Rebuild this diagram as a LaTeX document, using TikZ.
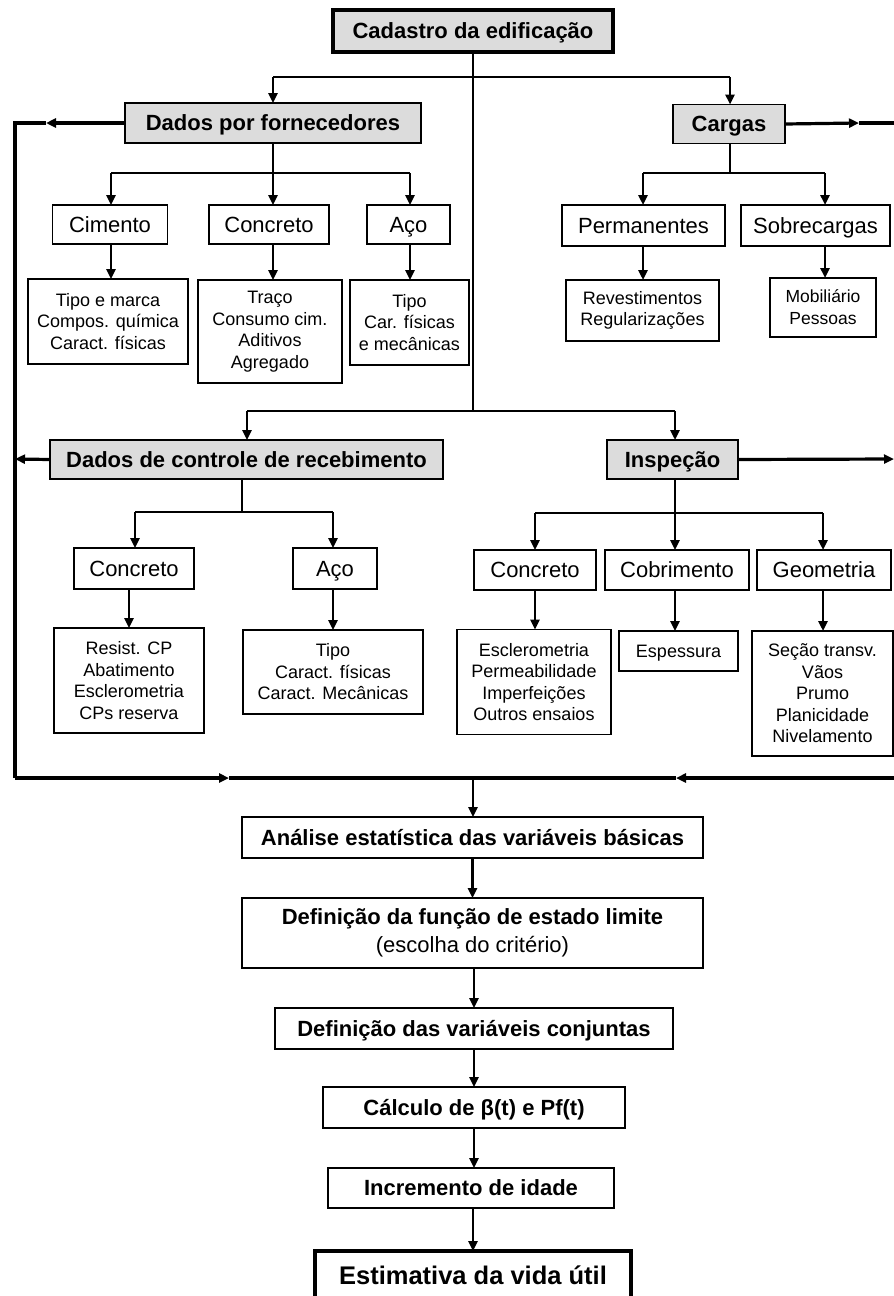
\documentclass[tikz,border=0pt]{standalone}
\usepackage{fontspec}
\setmainfont{Liberation Sans}
\usetikzlibrary{arrows.meta}
\definecolor{boxgray}{RGB}{220,220,220}
\begin{document}
\begin{tikzpicture}[x=1pt,y=-1pt,
  box/.style={draw=black, line width=1.7pt, inner sep=0pt, outer sep=0pt, align=center, text=black},
  gbox/.style={box, fill=boxgray},
  thickbox/.style={box, line width=3.2pt},
  hfont/.style={font=\fontsize{22}{26}\selectfont\bfseries, text height=15.8pt, text depth=0pt},
  sfont/.style={font=\fontsize{22}{26}\selectfont, text height=15.8pt, text depth=0pt},
  dfont/.style={font=\fontsize{18}{21.5}\selectfont},
  mfont/.style={font=\fontsize{17.5}{22}\selectfont},
  efont/.style={font=\fontsize{25.5}{30}\selectfont\bfseries, text height=18.3pt, text depth=0pt},
  ln/.style={draw=black, line width=2.4pt},
  arr/.style={ln, -{Triangle[length=10pt,width=9pt]}},
  lp/.style={draw=black, line width=3.2pt},
  lparr/.style={lp, -{Triangle[length=10pt,width=9pt]}}
]
\useasboundingbox (0,0) rectangle (894,1296);

% ---------- top ----------
\node[thickbox, fill=boxgray, hfont, minimum width=280pt, minimum height=42pt] (cad) at (473,31) {Cadastro da edificação};
\node[gbox, hfont, minimum width=296pt, minimum height=40pt] (dpf) at (273,123) {Dados por fornecedores};
\node[gbox, hfont, minimum width=112pt, minimum height=39pt] (car) at (729,124) {Cargas};

\node[box, sfont, minimum width=115pt, minimum height=39pt] (cim) at (110,224.5) {Cimento};
\node[box, sfont, minimum width=120pt, minimum height=39pt] (conc1) at (269,224.5) {Concreto};
\node[box, sfont, minimum width=83pt, minimum height=39pt] (aco1) at (408.5,224.5) {Aço};

\node[box, dfont, minimum width=160pt, minimum height=85pt] (cimd) at (108,321.5) {Tipo e marca\\Compos. química\\Caract. físicas};
\node[box, dfont, minimum width=144pt, minimum height=103pt] (concd) at (270,331.5) {Traço\\Consumo cim.\\Aditivos\\Agregado};
\node[box, dfont, minimum width=119pt, minimum height=85pt] (acod) at (409.5,322.5) {Tipo\\Car. físicas\\e mecânicas};

\node[box, sfont, minimum width=163pt, minimum height=41pt] (perm) at (643.5,225.5) {Permanentes};
\node[box, sfont, minimum width=149pt, minimum height=41pt] (sobr) at (815.5,225.5) {Sobrecargas};
\node[box, dfont, minimum width=153pt, minimum height=61pt] (revd) at (642.5,310.5) {Revestimentos\\Regularizações};
\node[box, mfont, minimum width=106pt, minimum height=59pt] (mobd) at (823,307.5) {Mobiliário\\Pessoas};

% ---------- middle ----------
\node[gbox, hfont, minimum width=393pt, minimum height=39pt] (dcr) at (246.5,459.5) {Dados de controle de recebimento};
\node[gbox, hfont, minimum width=131pt, minimum height=39pt] (insp) at (672.5,459.5) {Inspeção};

\node[box, sfont, minimum width=120pt, minimum height=41pt] (conc2) at (134,568.5) {Concreto};
\node[box, sfont, minimum width=84pt, minimum height=41pt] (aco2) at (335,568.5) {Aço};
\node[box, dfont, minimum width=150pt, minimum height=105pt] (conc2d) at (129,680.5) {Resist. CP\\Abatimento\\Esclerometria\\CPs reserva};
\node[box, dfont, minimum width=180pt, minimum height=84pt] (aco2d) at (333,672) {Tipo\\Caract. físicas\\Caract. Mecânicas};

\node[box, sfont, minimum width=122pt, minimum height=40pt] (conc3) at (535,570) {Concreto};
\node[box, sfont, minimum width=144pt, minimum height=40pt] (cobr) at (677,570) {Cobrimento};
\node[box, sfont, minimum width=134pt, minimum height=40pt] (geom) at (824,570) {Geometria};
\node[box, dfont, minimum width=154pt, minimum height=105pt] (conc3d) at (534,682) {Esclerometria\\Permeabilidade\\Imperfeições\\Outros ensaios};
\node[box, dfont, text height=12.9pt, text depth=0pt, minimum width=119pt, minimum height=40pt] (espd) at (678.5,651) {Espessura};
\node[box, dfont, minimum width=141pt, minimum height=125pt] (geomd) at (822.5,693.5) {Seção transv.\\Vãos\\Prumo\\Planicidade\\Nivelamento};

% ---------- bottom ----------
\node[box, hfont, minimum width=461pt, minimum height=41pt] (ana) at (472.5,837.5) {Análise estatística das variáveis básicas};
\node[box, font=\fontsize{22}{28}\selectfont\bfseries, minimum width=461pt, minimum height=70pt] (def) at (472.5,933) {Definição da função de estado limite\\\mdseries (escolha do critério)};
\node[box, hfont, minimum width=398pt, minimum height=41pt] (defc) at (474,1028.5) {Definição das variáveis conjuntas};
\node[box, hfont, minimum width=302pt, minimum height=41pt] (calc) at (474,1107.5) {Cálculo de β(t) e Pf(t)};
\node[box, hfont, minimum width=286pt, minimum height=40pt] (inc) at (471,1188) {Incremento de idade};
\node[thickbox, efont, minimum width=316pt, minimum height=48pt] (est) at (473,1275) {Estimativa da vida útil};

% ---------- coordinates ----------
\coordinate (t1) at (473,77);
\coordinate (t1l) at (273,77);
\coordinate (t1r) at (730,77);
\coordinate (m1) at (473,411);
\coordinate (m1l) at (247,411);
\coordinate (m1r) at (675,411);
\coordinate (s1) at (273,173);
\coordinate (s1l) at (111,173);
\coordinate (s1r) at (410,173);
\coordinate (s2) at (730,173);
\coordinate (s2l) at (643,173);
\coordinate (s2r) at (825,173);
\coordinate (s3) at (242,512);
\coordinate (s3l) at (135,512);
\coordinate (s3r) at (333,512);
\coordinate (s4) at (675,513);
\coordinate (s4l) at (535,513);
\coordinate (s4r) at (823,513);

\coordinate (Lt) at (15,123);
\coordinate (Lta) at (46,123);
\coordinate (Lm) at (15,459);
\coordinate (Lb) at (15,778);
\coordinate (Bl) at (229,778);
\coordinate (Bj) at (473,778);
\coordinate (Br) at (676,778);
\coordinate (Rb) at (898,778);
\coordinate (Rt) at (898,123);
\coordinate (Rta) at (859,123);
\coordinate (Ri) at (894,459);

% ---------- connectors: top ----------
\draw[ln] (cad.south) -- (m1);
\draw[ln] (t1l) -- (t1r);
\draw[arr] (t1l) -- (t1l |- dpf.north);
\draw[arr] (t1r) -- (t1r |- car.north);

\draw[ln] (dpf.south -| s1) -- (s1);
\draw[ln] (s1l) -- (s1r);
\draw[arr] (s1l) -- (s1l |- cim.north);
\draw[arr] (s1) -- (s1 |- conc1.north);
\draw[arr] (s1r) -- (s1r |- aco1.north);
\draw[arr] (cim.south -| s1l) -- (s1l |- cimd.north);
\draw[arr] (conc1.south -| s1) -- (s1 |- concd.north);
\draw[arr] (aco1.south -| s1r) -- (s1r |- acod.north);

\draw[ln] (car.south -| s2) -- (s2);
\draw[ln] (s2l) -- (s2r);
\draw[arr] (s2l) -- (s2l |- perm.north);
\draw[arr] (s2r) -- (s2r |- sobr.north);
\draw[arr] (perm.south -| s2l) -- (s2l |- revd.north);
\draw[arr] (sobr.south -| s2r) -- (s2r |- mobd.north);

% ---------- connectors: middle ----------
\draw[ln] (m1l) -- (m1r);
\draw[arr] (m1l) -- (m1l |- dcr.north);
\draw[arr] (m1r) -- (m1r |- insp.north);

\draw[ln] (dcr.south -| s3) -- (s3);
\draw[ln] (s3l) -- (s3r);
\draw[arr] (s3l) -- (s3l |- conc2.north);
\draw[arr] (s3r) -- (s3r |- aco2.north);
\draw[arr] (conc2.south -| conc2d.north) -- (conc2d.north);
\draw[arr] (aco2.south -| s3r) -- (s3r |- aco2d.north);

\draw[ln] (insp.south -| s4) -- (s4);
\draw[ln] (s4l) -- (s4r);
\draw[arr] (s4l) -- (s4l |- conc3.north);
\draw[arr] (s4) -- (s4 |- cobr.north);
\draw[arr] (s4r) -- (s4r |- geom.north);
\draw[arr] (conc3.south -| s4l) -- (s4l |- conc3d.north);
\draw[arr] (cobr.south -| s4) -- (s4 |- espd.north);
\draw[arr] (geom.south -| s4r) -- (s4r |- geomd.north);

% ---------- loop / side lines ----------
\draw[lparr] (dpf.west) -- (Lta);
\draw[lp] (Lta) -- (Lt) -- (Lb);
\draw[lparr] (Lb) -- (Bl);
\draw[lp] (Bl) -- (Bj);
\draw[lparr] (dcr.west) -- (Lm);
\draw[lparr] (Rb) -- (Br);
\draw[lp] (Br) -- (Bj);
\draw[lparr] (car.east) -- (Rta);
\draw[lp] (Rta) -- (Rt);
\draw[lparr] (insp.east) -- (Ri);

% ---------- connectors: bottom ----------
\draw[arr] (Bj) -- (Bj |- ana.north);
\draw[arr] (ana.south) -- (ana.south |- def.north);
\draw[arr] (def.south -| defc.north) -- (defc.north);
\draw[arr] (defc.south) -- (defc.south |- calc.north);
\draw[arr] (calc.south) -- (calc.south |- inc.north);
\draw[arr] (inc.south -| est.north) -- (est.north);
\end{tikzpicture}
\end{document}
